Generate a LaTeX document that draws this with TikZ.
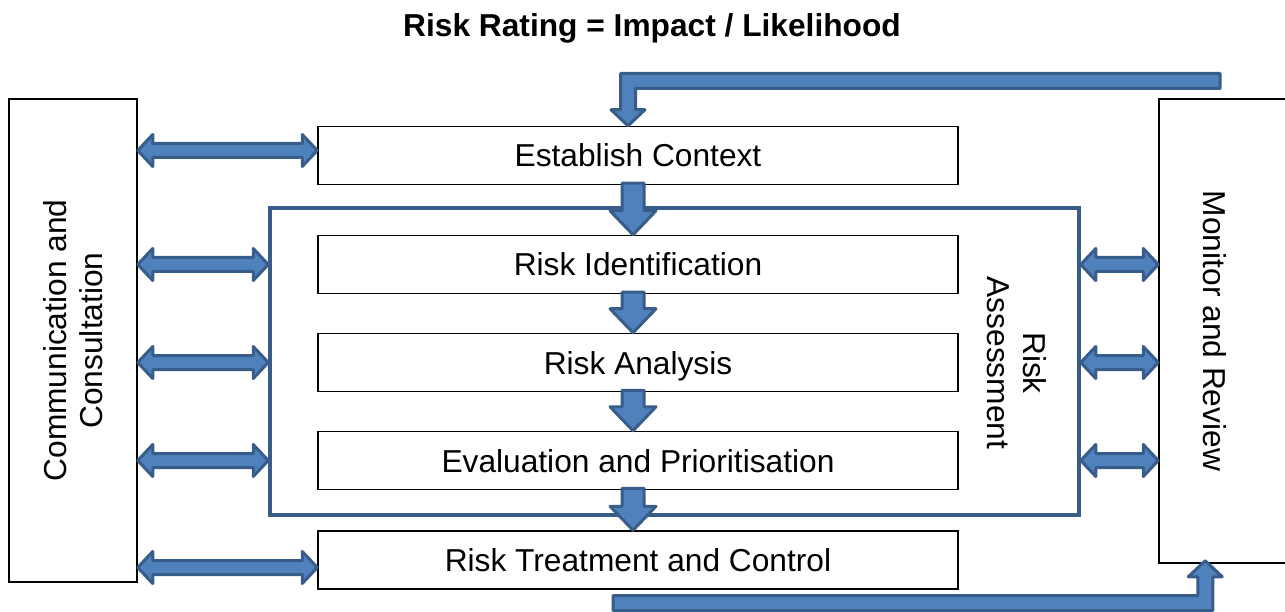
\documentclass[tikz,border=0pt]{standalone}
\usepackage{fontspec}
\setmainfont{Liberation Sans}
\usetikzlibrary{calc}
\definecolor{arrowfill}{RGB}{79,129,189}
\definecolor{arrowline}{RGB}{56,93,138}
\tikzstyle{stage}=[draw=black, line width=1.5pt, minimum width=640pt, minimum height=58pt, inner sep=0pt, text height=23pt, text depth=0pt]
\tikzstyle{side box}=[draw=black, line width=1.5pt, inner sep=0pt]
\tikzstyle{group box}=[draw=arrowline, line width=3.5pt, inner sep=0pt, minimum width=809pt, minimum height=307pt]
\tikzstyle{block arrow}=[fill=arrowfill, draw=arrowline, line width=3pt, line join=round]

% two-headed block arrow, left tip to right tip
\newcommand\twoway[2]{\draw[block arrow] let \p1=#1, \p2=#2 in
  (\x1,\y1) -- (\x1+15pt,\y1+16pt) -- (\x1+15pt,\y1+7pt) -- (\x2-15pt,\y2+7pt)
  -- (\x2-15pt,\y2+16pt) -- (\x2,\y2) -- (\x2-15pt,\y2-16pt) -- (\x2-15pt,\y2-7pt)
  -- (\x1+15pt,\y1-7pt) -- (\x1+15pt,\y1-16pt) -- cycle;}
% short down arrow, top of shaft to tip
\newcommand\stepdown[2]{\draw[block arrow] let \p1=#1, \p2=#2 in
  (\x1-11pt,\y1) -- (\x1-11pt,\y2+24pt) -- (\x1-23pt,\y2+24pt) -- (\x2,\y2)
  -- (\x1+23pt,\y2+24pt) -- (\x1+11pt,\y2+24pt) -- (\x1+11pt,\y1) -- cycle;}
% feedback arrows with one bend
\newcommand\elbowdown[2]{\draw[block arrow] let \p1=#1, \p2=#2 in
  (\x1,\y1+7.5pt) -- (\x2-7.5pt,\y1+7.5pt) -- (\x2-7.5pt,\y2+16pt) -- (\x2-17pt,\y2+16pt)
  -- (\x2,\y2) -- (\x2+17pt,\y2+16pt) -- (\x2+7.5pt,\y2+16pt) -- (\x2+7.5pt,\y1-7.5pt)
  -- (\x1,\y1-7.5pt) -- cycle;}
\newcommand\elbowup[2]{\draw[block arrow] let \p1=#1, \p2=#2 in
  (\x1,\y1+7.5pt) -- (\x2-7.5pt,\y1+7.5pt) -- (\x2-7.5pt,\y2-16pt) -- (\x2-17pt,\y2-16pt)
  -- (\x2,\y2) -- (\x2+17pt,\y2-16pt) -- (\x2+7.5pt,\y2-16pt) -- (\x2+7.5pt,\y1-7.5pt)
  -- (\x1,\y1-7.5pt) -- cycle;}

\begin{document}
\begin{tikzpicture}[x=1pt,y=-1pt,font=\fontsize{31.7pt}{36.5pt}\selectfont]
    \clip (0,0) rectangle (1285,612);

    % Title
    \draw (652,37) node[anchor=base] (title) {\bfseries Risk Rating = Impact / Likelihood};

    % Side boxes
    \draw (73,340.5) node[side box, minimum width=128pt, minimum height=483pt] (comm) {};
    \draw (73,340.5) node[rotate=90, align=center] (commtext) {Communication and\\Consultation};
    \draw (1224.5,331) node[side box, minimum width=131pt, minimum height=464pt] (mon) {};
    \draw (1215,331) node[rotate=-90] (montext) {Monitor and Review};

    % Assessment group
    \draw (674.5,361.5) node[group box] (ra) {};
    \draw (1017,363) node[rotate=-90, align=center] (ratext) {Risk\\Assessment};

    % Stages
    \draw (638,155.5) node[stage] (est) {Establish Context};
    \draw (638,264.5) node[stage] (ident) {Risk Identification};
    \draw (638,362.5) node[stage] (anal) {Risk Analysis};
    \draw (638,460.5) node[stage] (eval) {Evaluation and Prioritisation};
    \draw (638,560) node[stage] (treat) {Risk Treatment and Control};

    % Communication arrows
    \twoway{([yshift=5pt]comm.east |- est.west)}{([yshift=5pt]est.west)}
    \twoway{(comm.east |- ident.west)}{(ra.west |- ident.west)}
    \twoway{(comm.east |- anal.west)}{(ra.west |- anal.west)}
    \twoway{(comm.east |- eval.west)}{(ra.west |- eval.west)}
    \twoway{([yshift=-7.5pt]comm.east |- treat.west)}{([yshift=-7.5pt]treat.west)}

    % Monitoring arrows
    \twoway{(ra.east |- ident.east)}{(mon.west |- ident.east)}
    \twoway{(ra.east |- anal.east)}{(mon.west |- anal.east)}
    \twoway{(ra.east |- eval.east)}{(mon.west |- eval.east)}

    % Flow
    \stepdown{([xshift=-5pt,yshift=2pt]est.south)}{([xshift=-5pt]ident.north)}
    \stepdown{([xshift=-5pt,yshift=2pt]ident.south)}{([xshift=-5pt]anal.north)}
    \stepdown{([xshift=-5pt,yshift=2pt]anal.south)}{([xshift=-5pt]eval.north)}
    \stepdown{([xshift=-5pt,yshift=2pt]eval.south)}{([xshift=-5pt]treat.north)}

    % Feedback
    \coordinate (backin) at (1220,81);
    \coordinate (backout) at (613,603);
    \elbowdown{(backin)}{([xshift=-10pt]est.north)}
    \elbowup{(backout)}{([xshift=47pt,yshift=3pt]mon.south west)}

\end{tikzpicture}
\end{document}
